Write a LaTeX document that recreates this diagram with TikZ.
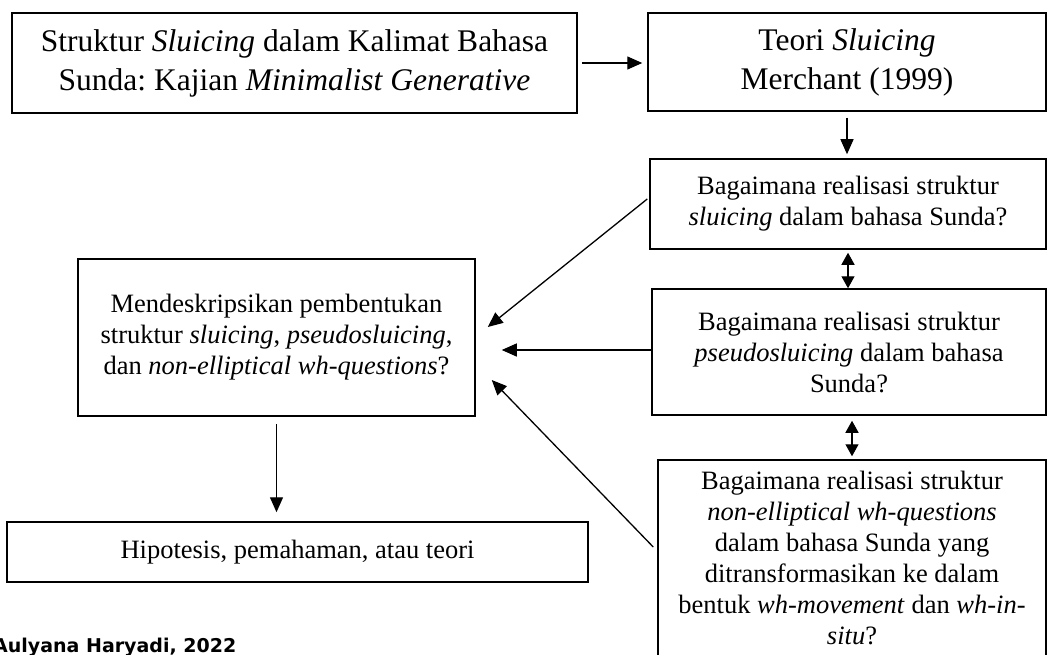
\documentclass[tikz,border=0pt]{standalone}
\usepackage{fontspec}
\setmainfont{Liberation Serif}
\newfontfamily\srcfont{DejaVu Sans}
\usetikzlibrary{arrows.meta, positioning, calc}
\frenchspacing

\begin{document}
\begin{tikzpicture}[x=1pt, y=-1pt,
        box/.style={draw, line width=1.5pt, align=center, inner sep=0pt, font=\fontsize{26.5}{31}\selectfont},
        bigbox/.style={box, font=\fontsize{31.5}{39}\selectfont},
        arr/.style={-{Triangle[length=15pt, width=13pt]}, line width=1.3pt},
        dbl/.style={{Triangle[length=12pt, width=13pt]}-{Triangle[length=12pt, width=13pt]}, line width=1.3pt}]
    \useasboundingbox (0,0) rectangle (1048,655);
    \node[bigbox, minimum width=565, minimum height=100] (judul) at (294.5,63) {Struktur \textit{Sluicing} dalam Kalimat Bahasa\\Sunda: Kajian \textit{Minimalist Generative}};
    \node[bigbox, minimum width=398, minimum height=98] (teori) at (847,62) {Teori \textit{Sluicing}\\Merchant (1999)};
    \node[box, minimum width=396, minimum height=90] (qa) at (848,204) {Bagaimana realisasi struktur\\\textit{sluicing} dalam bahasa Sunda?};
    \node[box, minimum width=394, minimum height=126] (qb) at (849,352) {Bagaimana realisasi struktur\\\textit{pseudosluicing} dalam bahasa\\Sunda?};
    \node[box, minimum width=388, minimum height=196] (qc) at (852,558) {Bagaimana realisasi struktur\\\textit{non-elliptical wh-questions}\\dalam bahasa Sunda yang\\ditransformasikan ke dalam\\bentuk \textit{wh-movement} dan \textit{wh-in-}\\\textit{situ}?};
    \node[box, minimum width=397, minimum height=157] (desk) at (276.5,337.5) {Mendeskripsikan pembentukan\\struktur \textit{sluicing}, \textit{pseudosluicing},\\dan \textit{non-elliptical wh-questions}?};
    \node[box, minimum width=581, minimum height=60] (hip) at (297.5,552) {Hipotesis, pemahaman, atau teori};
    \node[font=\srcfont\bfseries\fontsize{19}{23}\selectfont, anchor=base west, inner sep=0pt] (sumber) at (-7,652) {Aulyana Haryadi, 2022};
    \coordinate (ma) at ($(desk.east)+(12,-10.5)$);
    \coordinate (mb) at ($(desk.east)+(26,12.5)$);
    \coordinate (mc) at ($(desk.east)+(16,42.5)$);
    \draw[arr, shorten <=4pt, shorten >=5pt] (judul.east) -- (judul.east -| teori.west);
    \draw[arr, shorten <=6pt, shorten >=4pt] (teori.south) -- (teori.south |- qa.north);
    \draw[dbl, shorten <=3pt] (qa.south) -- (qa.south |- qb.north);
    \draw[dbl, shorten <=5pt, shorten >=3pt] (qc.north |- qb.south) -- (qc.north);
    \draw[arr] ($(qa.west)+(-2,-5)$) -- (ma);
    \draw[arr] (qb.west |- mb) -- (mb);
    \draw[arr] ($(qc.west)+(-4,-11)$) -- (mc);
    \draw[arr, shorten <=7pt, shorten >=9pt] (desk.south) -- (desk.south |- hip.north);
\end{tikzpicture}
\end{document}
